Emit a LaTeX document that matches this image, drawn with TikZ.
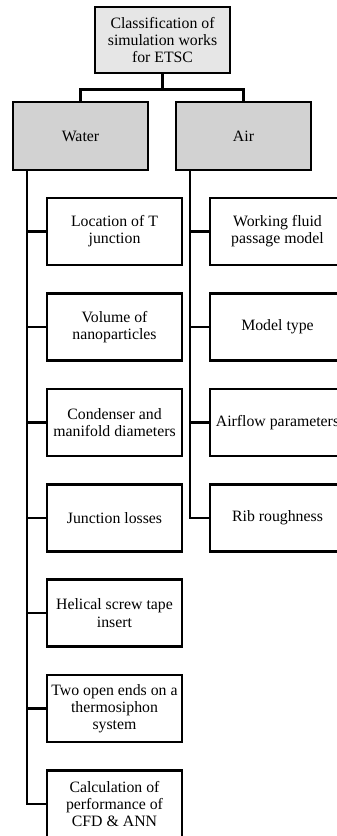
\documentclass[tikz,border=0pt]{standalone}
\usepackage{fontspec}
\setmainfont{Liberation Serif}
\definecolor{rootgray}{HTML}{E6E6E6}
\definecolor{catgray}{HTML}{D2D2D2}
\begin{document}
\begin{tikzpicture}[x=1pt,y=1pt,
  box/.style={draw=black, line width=2.5pt, minimum width=135pt, minimum height=67pt,
    align=center, inner sep=1pt, font=\fontsize{15.8}{17.2}\selectfont},
  rootbox/.style={box, fill=rootgray, minimum height=66pt},
  catbox/.style={box, fill=catgray, minimum height=68pt},
  leafbox/.style={box, fill=white},
  link/.style={draw=black, line width=2.5pt}]
\useasboundingbox (0,0) rectangle (337,-836);
\clip (0,0) rectangle (337,-836);

% top level
\node[rootbox] (root) at (162.5,-40) {Classification of\\simulation works\\for ETSC};
\node[catbox] (water) at (80.5,-136) {Water};
\node[catbox] (air) at (243.5,-136) {Air};

\draw[link] (root.south) -- ++(0,-15) coordinate (fork);
\draw[link] (water.north) |- (fork) -| (air.north);

% water branch
\node[leafbox] (w1) at (114.5,-231.5) {Location of T\\junction};
\node[leafbox] (w2) at (114.5,-327) {Volume of\\nanoparticles};
\node[leafbox] (w3) at (114.5,-422.5) {Condenser and\\manifold diameters};
\node[leafbox] (w4) at (114.5,-518) {Junction losses};
\node[leafbox] (w5) at (114.5,-613) {Helical screw tape\\insert};
\node[leafbox] (w6) at (114.5,-708.5) {Two open ends on a\\thermosiphon\\system};
\node[leafbox] (w7) at (114.5,-804) {Calculation of\\performance of\\CFD \& ANN};

\coordinate (wtop) at ([xshift=15pt]water.south west);
\draw[link] (wtop) -- (wtop |- w7.west) -- (w7.west);
\foreach \n in {w1,w2,w3,w4,w5,w6}
  \draw[link] (wtop |- \n.west) -- (\n.west);

% air branch
\node[leafbox] (a1) at (277.5,-231.5) {Working fluid\\passage model};
\node[leafbox] (a2) at (277.5,-327) {Model type};
\node[leafbox] (a3) at (277.5,-422.5) {Airflow parameters};
\node[leafbox] (a4) at (277.5,-518) {Rib roughness};

\coordinate (atop) at ([xshift=15pt]air.south west);
\draw[link] (atop) -- (atop |- a4.west) -- (a4.west);
\foreach \n in {a1,a2,a3}
  \draw[link] (atop |- \n.west) -- (\n.west);
\end{tikzpicture}
\end{document}
